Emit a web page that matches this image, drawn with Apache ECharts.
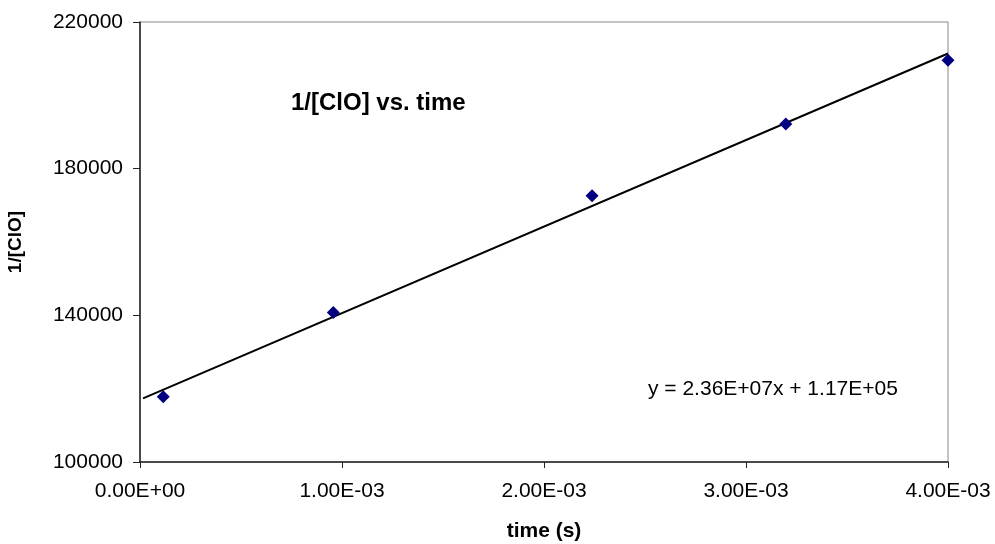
<!DOCTYPE html>
<html>
<head>
<meta charset="utf-8">
<script src="https://cdn.jsdelivr.net/npm/echarts@6/dist/echarts.min.js"></script>
<style>html,body{margin:0;padding:0;background:#fff}#c{width:995px;height:544px}</style>
</head>
<body>
<div id="c"></div>
<script>
// Data
const timeS = [0.000115, 0.000957, 0.002238, 0.003197, 0.0040];
const invClO = [117800, 140800, 172600, 192200, 209600];
// Trendline as shown in the chart's equation label
const trendSlope = 2.36e7;
const trendIntercept = 1.17e5;
const trendX = [0.000015, 0.0040];
const xTicks = [0, 0.001, 0.002, 0.003, 0.004];
const yTicks = [100000, 140000, 180000, 220000];

function sci(v) {
  let s = Number(v).toExponential(2).toUpperCase();
  return s.replace(/E([+-])(\d)$/, 'E$10$2');
}

const chart = echarts.init(document.getElementById('c'), null, {renderer: 'canvas'});
const font = 'Liberation Sans, Arial, sans-serif';
chart.setOption({
  backgroundColor: '#fff',
  animation: false,
  textStyle: {fontFamily: font},
  title: {
    text: '1/[ClO] vs. time',
    left: 286, top: 86,
    textStyle: {fontFamily: font, fontSize: 24, fontWeight: 'bold', color: '#000'}
  },
  graphic: [{
    type: 'text', left: 648, top: 379,
    style: {text: 'y = 2.36E+07x + 1.17E+05', fontFamily: font, fontSize: 21, fill: '#000'}
  }],
  grid: {left: 140, right: 47, top: 22, bottom: 82, show: true, borderColor: '#888', borderWidth: 1,
         containLabel: false, outerBoundsMode: 'none'},
  xAxis: {
    type: 'value', min: xTicks[0], max: xTicks[xTicks.length - 1], interval: 0.001,
    name: 'time (s)', nameLocation: 'middle', nameGap: 59,
    nameTextStyle: {fontFamily: font, fontSize: 21, fontWeight: 'bold', color: '#000'},
    axisLine: {lineStyle: {color: '#222', width: 1.5}},
    axisTick: {show: true, length: 6, inside: false, lineStyle: {color: '#222'}},
    splitLine: {show: false},
    axisLabel: {formatter: sci, fontFamily: font, fontSize: 21, color: '#000', margin: 19}
  },
  yAxis: {
    type: 'value', min: yTicks[0], max: yTicks[yTicks.length - 1], interval: 40000,
    name: '1/[ClO]', nameLocation: 'middle', nameGap: 115, nameRotate: 90,
    nameTextStyle: {fontFamily: font, fontSize: 19, fontWeight: 'bold', color: '#000'},
    axisLine: {show: true, lineStyle: {color: '#222', width: 1.5}},
    axisTick: {show: true, length: 7, lineStyle: {color: '#222'}},
    splitLine: {show: false},
    axisLabel: {formatter: v => String(v), fontFamily: font, fontSize: 21, color: '#000', margin: 17}
  },
  series: [
    {
      type: 'line', showSymbol: false, symbol: 'none',
      data: trendX.map(x => [x, trendSlope * x + trendIntercept]),
      lineStyle: {color: '#000', width: 2}, z: 2
    },
    {
      type: 'scatter', symbol: 'diamond', symbolSize: 13,
      itemStyle: {color: '#000080', opacity: 1},
      data: timeS.map((t, i) => [t, invClO[i]]), z: 3
    }
  ]
});
</script>
</body>
</html>
